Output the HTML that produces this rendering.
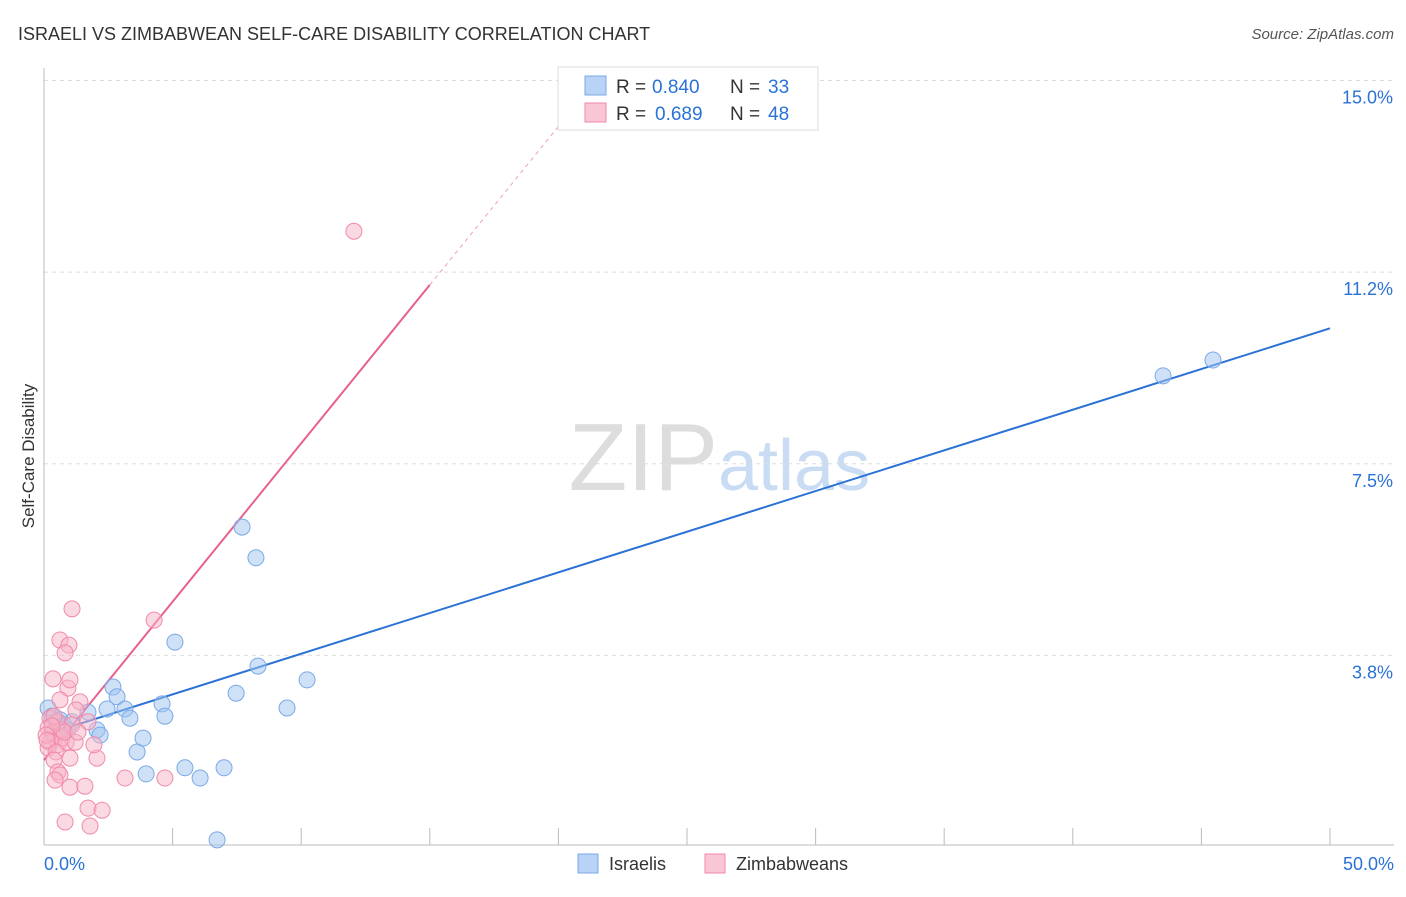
<!DOCTYPE html>
<html><head><meta charset="utf-8"><style>
body{margin:0;background:#fff;font-family:"Liberation Sans",sans-serif;}
svg text{font-family:"Liberation Sans",sans-serif;}
</style></head><body>
<svg id="chart" width="1406" height="892">
<text x="18" y="40" font-size="18" fill="#333">ISRAELI VS ZIMBABWEAN SELF-CARE DISABILITY CORRELATION CHART</text>
<text x="1394" y="39" font-size="15" fill="#555" font-style="italic" text-anchor="end">Source: ZipAtlas.com</text>
<text x="718" y="490" font-size="96" fill="#ddd" font-family="Liberation Serif" text-anchor="end">ZIP</text>
<text x="718" y="490" font-size="72" fill="#c9dcf3">atlas</text>
<text transform="translate(34,456) rotate(-90)" font-size="17" fill="#333" text-anchor="middle">Self-Care Disability</text>
<g id="grid"></g><g id="lines"></g><g id="pts"></g>
<g>
<rect x="558" y="67" width="260" height="63" fill="#fff" stroke="#ddd"/>
<rect x="585" y="76" width="21" height="19" fill="#b8d3f5" stroke="#7aaae8"/>
<rect x="585" y="103" width="21" height="19" fill="#f9c6d5" stroke="#f08aa8"/>
<text x="616" y="93" font-size="19" fill="#333">R =</text>
<text x="652" y="93" font-size="19" fill="#2a72d6">0.840</text>
<text x="730" y="93" font-size="19" fill="#333">N =</text>
<text x="768" y="93" font-size="19" fill="#2a72d6">33</text>
<text x="616" y="120" font-size="19" fill="#333">R =</text>
<text x="655" y="120" font-size="19" fill="#2a72d6">0.689</text>
<text x="730" y="120" font-size="19" fill="#333">N =</text>
<text x="768" y="120" font-size="19" fill="#2a72d6">48</text>
</g>
<g>
<rect x="578" y="854" width="20" height="19" fill="#b8d3f5" stroke="#7aaae8"/>
<text x="609" y="870" font-size="18" fill="#333">Israelis</text>
<rect x="705" y="854" width="20" height="19" fill="#f9c6d5" stroke="#f08aa8"/>
<text x="736" y="870" font-size="18" fill="#333">Zimbabweans</text>
</g>
</svg>
<script>
const yTicks=[3.75,7.5,11.25,15];
const yTickLabels=["3.8%","7.5%","11.2%","15.0%"];
const xTicks=[0,5,10,15,20,25,30,35,40,45,50];
const blueX=[0.16,0.31,0.47,0.62,0.78,0.93,1.09,1.71,2.06,2.18,2.45,2.68,2.84,3.15,3.34,3.62,3.85,3.97,4.59,4.70,5.09,5.48,6.07,6.73,7.00,7.47,7.70,8.24,8.32,9.45,10.23,43.51,45.45];
const blueY=[2.72,2.56,2.45,2.49,2.39,2.29,2.45,2.64,2.29,2.19,2.70,3.13,2.94,2.70,2.52,1.86,2.13,1.43,2.80,2.56,4.01,1.55,1.35,0.14,1.55,3.01,6.26,5.66,3.54,2.72,3.27,9.22,9.53];
const pinkX=[0.35,0.62,1.09,0.97,0.82,0.93,1.01,0.23,0.16,0.31,0.43,0.23,0.54,0.16,0.70,0.86,0.47,0.39,1.01,0.54,0.62,0.43,1.01,1.59,0.82,1.71,1.79,2.26,2.06,1.94,1.21,1.40,1.24,1.71,0.70,0.54,0.39,1.09,0.78,4.28,12.05,3.15,4.70,1.32,0.31,0.08,0.62,0.12];
const pinkY=[3.29,4.05,4.66,3.95,3.80,3.11,3.27,2.52,2.33,2.23,2.13,2.05,2.00,1.94,2.13,2.05,1.86,1.70,1.74,1.47,1.41,1.31,1.17,1.19,0.49,0.76,0.41,0.72,1.74,2.00,2.05,2.84,2.68,2.45,2.29,2.45,2.56,2.39,2.25,4.44,12.05,1.35,1.35,2.25,2.37,2.19,2.88,2.09];
const blueFit=[2.19,10.15];
const pinkFit=[1.70,0.62];
const NS="http://www.w3.org/2000/svg";
const sx=v=>44+v*25.72, sy=v=>847-v*51.1;
function mk(tag,at,parent){const e=document.createElementNS(NS,tag);for(const k in at)e.setAttribute(k,at[k]);document.getElementById(parent).appendChild(e);return e;}
yTicks.forEach((t,i)=>{
 const l=mk('line',{x1:44,x2:1394,y1:sy(t),y2:sy(t),stroke:'#ddd','stroke-dasharray':'4,4'},'grid');
 
 
 const tx=mk('text',{x:1393,y:sy(t)+23,'font-size':18,fill:'#2a72d6','text-anchor':'end'},'grid');tx.textContent=yTickLabels[i];
 
 
});
const ax=mk('line',{x1:44,x2:1394,y1:845,y2:845,stroke:'#bbb'},'grid');


const ay=mk('line',{x1:44,x2:44,y1:68,y2:845,stroke:'#bbb'},'grid');


xTicks.forEach(t=>{const l=mk('line',{x1:sx(t),x2:sx(t),y1:828,y2:845,stroke:'#bbb'},'grid');
 
 });
let t0=mk('text',{x:44,y:870,'font-size':18,fill:'#2a72d6'},'grid');t0.textContent='0.0%';


let t1=mk('text',{x:1394,y:870,'font-size':18,fill:'#2a72d6','text-anchor':'end'},'grid');t1.textContent='50.0%';


blueX.forEach((x,i)=>{const c=mk('circle',{cx:sx(x),cy:sy(blueY[i]),r:8,fill:'rgba(160,196,240,0.5)',stroke:'#7aaae8','stroke-width':1},'pts');
 
 });
pinkX.forEach((x,i)=>{const c=mk('circle',{cx:sx(x),cy:sy(pinkY[i]),r:8,fill:'rgba(248,180,200,0.5)',stroke:'#f08aa8','stroke-width':1},'pts');
 
 });
const bl=mk('line',{x1:sx(0),y1:sy(blueFit[0]),x2:sx(50),y2:sy(blueFit[1]),stroke:'#2a72d6','stroke-width':2},'lines');


const pl=mk('line',{x1:sx(0),y1:sy(pinkFit[0]),x2:sx(15),y2:sy(pinkFit[0]+15*pinkFit[1]),stroke:'#e8608c','stroke-width':2},'lines');


const xe=(15-pinkFit[0])/pinkFit[1];
const pd=mk('line',{x1:sx(15),y1:sy(pinkFit[0]+15*pinkFit[1]),x2:sx(xe),y2:sy(15),stroke:'#f0a0b8','stroke-width':1,'stroke-dasharray':'4,4'},'lines');


</script>
</body></html>
